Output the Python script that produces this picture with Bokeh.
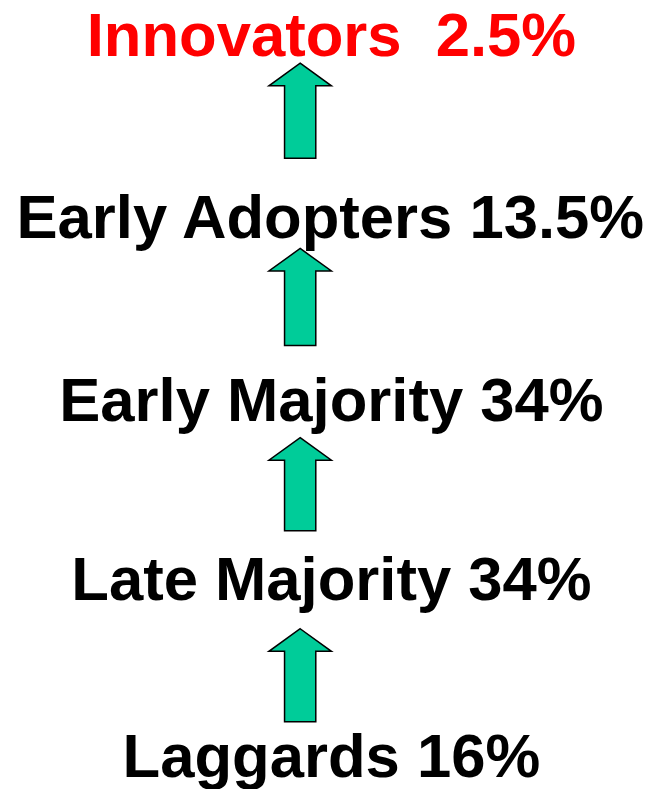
from bokeh.plotting import figure
from bokeh.models import Range1d, ColumnDataSource
from bokeh.core.properties import value
from bokeh.embed import file_html
from bokeh.resources import INLINE

# --- data ---
categories = ["Innovators", "Early Adopters", "Early Majority", "Late Majority", "Laggards"]
shares = [2.5, 13.5, 34, 34, 16]
separators = ["\u00a0 ", " ", " ", " ", " "]
label_colors = ["#FF0000", "#000000", "#000000", "#000000", "#000000"]

# --- layout ---
W, H = 654, 789
sx, sy = W / 670, H / 805  # scale reference layout into the figure
p = figure(width=W, height=H, x_range=Range1d(0, W), y_range=Range1d(H, 0),
           min_border=0, outline_line_color=None, toolbar_location=None,
           output_backend="svg", background_fill_color="white")
p.axis.visible = False
p.grid.visible = False

font_px = 63 * (sx + sy) / 2
text_x = 339 * sx
cap_centers = [c * sy for c in [34.5, 220.5, 407.5, 589.5, 770.5]]
labels = [f"{c}{s}{v:g}%" for c, s, v in zip(categories, separators, shares)]
src = ColumnDataSource(dict(x=[text_x] * len(labels), y=cap_centers, text=labels, color=label_colors))
p.text(x="x", y="y", text="text", text_color="color", source=src,
       text_font=value("Liberation Sans"), text_font_style="bold",
       text_font_size=f"{font_px:.1f}px", text_align="center", text_baseline="middle")

# arrows between consecutive labels
arrow_x = 307 * sx
tips = [t * sy for t in [64, 253, 446, 641]]
bottoms = [b * sy for b in [161, 352, 541, 736]]
head_len, head_hw, shaft_hw = 23 * sy, 32 * sx, 16 * sx
xs, ys = [], []
for t, b in zip(tips, bottoms):
    hb = t + head_len
    xs.append([arrow_x, arrow_x + head_hw, arrow_x + shaft_hw, arrow_x + shaft_hw,
               arrow_x - shaft_hw, arrow_x - shaft_hw, arrow_x - head_hw])
    ys.append([t, hb, hb, b, b, hb, hb])
p.patches(xs, ys, fill_color="#00CC99", line_color="black", line_width=1.5,
          line_join="miter")

open("out.html", "w").write(file_html(p, INLINE))
